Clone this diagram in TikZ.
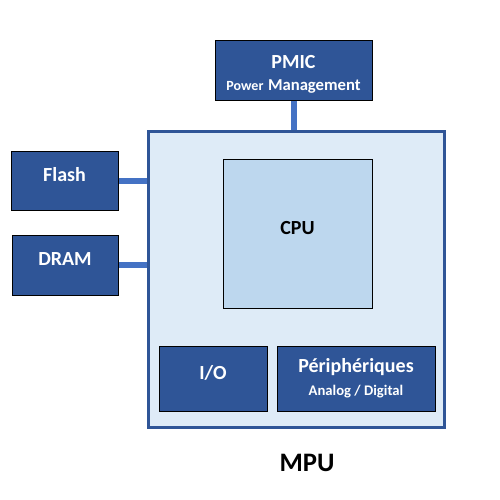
\documentclass[tikz,border=0pt]{standalone}
\usepackage{fontspec}
\setmainfont{Carlito}
\usepackage{tikz}
\definecolor{boxblue}{HTML}{2F5597}
\definecolor{linkblue}{HTML}{4472C4}
\definecolor{mpufill}{HTML}{DEEBF7}
\definecolor{cpufill}{HTML}{BDD7EE}
\tikzstyle{block}=[draw=black, line width=0.75pt, inner sep=0pt, font=\bfseries\fontsize{15}{18}\selectfont]
\tikzstyle{dblock}=[block, fill=boxblue, text=white, align=center]
\tikzstyle{link}=[draw=linkblue, line width=4.5pt]

\begin{document}
\begin{tikzpicture}[x=0.75pt, y=-0.75pt]
        \useasboundingbox (0, 0) rectangle (500, 500);
        \node[draw=boxblue, fill=mpufill, line width=2.25pt, minimum width=222pt, minimum height=222pt] (MPU) at (296.5, 279.5) {};
        \node[block, fill=cpufill, text depth=9pt, minimum width=111.75pt, minimum height=111.75pt] (CPU) at (297.5, 233.5) {CPU};
        \node[dblock, minimum width=117.75pt, minimum height=45pt] (PMIC) at (293.5, 70) {\rule{0pt}{16.5pt}PMIC\\[-1pt]{\fontsize{10.5}{12}\selectfont Power} {\fontsize{12.5}{14}\selectfont Management}};
        \node[dblock, text depth=9pt, minimum width=80.25pt, minimum height=44.25pt] (Flash) at (64.5, 180.5) {Flash};
        \node[dblock, text depth=9pt, minimum width=79.5pt, minimum height=45pt] (DRAM) at (65, 265) {DRAM};
        \node[dblock, text depth=9pt, minimum width=81pt, minimum height=48.75pt] (IO) at (213, 378.5) {I/O};
        \node[dblock, minimum width=118.5pt, minimum height=48.75pt] (Periph) at (356, 378.5) {P\'eriph\'eriques\\[-1pt]{\fontsize{11}{13}\selectfont Analog / Digital}};
        \node[font=\bfseries\fontsize{20}{24}\selectfont] (MPUlabel) at (307, 463) {MPU};
        \draw[link] (PMIC.south) -- (PMIC.south |- MPU.north);
        \draw[link] (Flash.east) -- (Flash.east -| MPU.west);
        \draw[link] (DRAM.east) -- (DRAM.east -| MPU.west);
    \end{tikzpicture}
\end{document}
